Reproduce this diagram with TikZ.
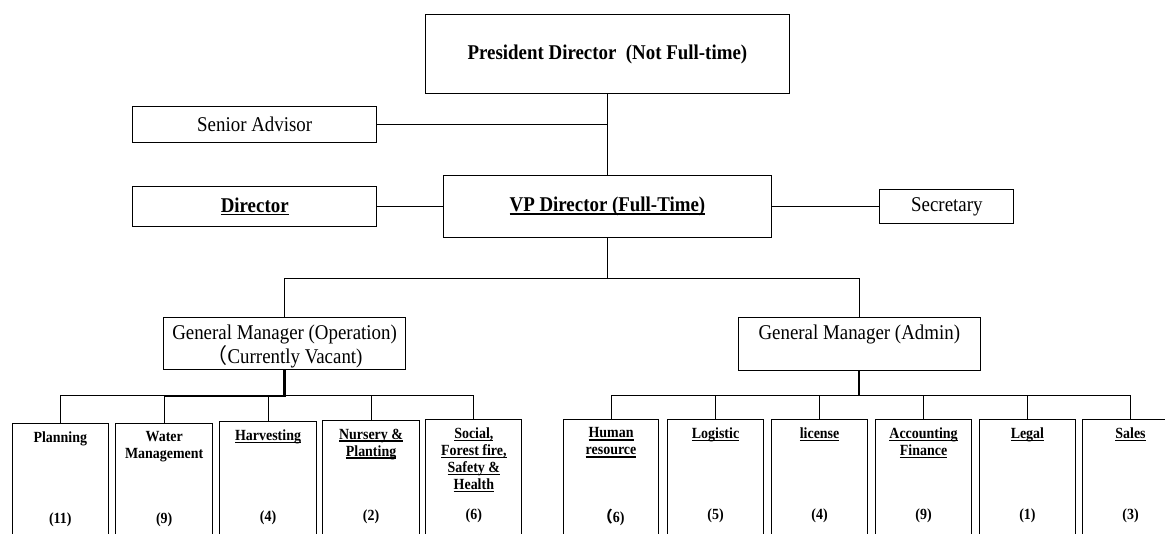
\documentclass[tikz,border=0pt]{standalone}
\usepackage{fontspec}
\setmainfont{Liberation Serif}[FakeStretch=0.9]
\newfontfamily\cjk{Noto Sans CJK SC}
\usetikzlibrary{calc}

% underline drawn as a rule of fixed thickness
\newsavebox\ulsave
\newcommand\uln[1]{\sbox\ulsave{#1}\rlap{\rule[-2.8pt]{\wd\ulsave}{1.4pt}}\usebox\ulsave}

\newcommand\topfont{\fontsize{21}{23.7}\selectfont}
\newcommand\deptfont{\fontsize{15.5}{17}\selectfont\bfseries}
% invisible strut that lowers a centred block of text slightly
\newcommand\lowerstrut{\rule{0pt}{21pt}}

\tikzset{
  box/.style={draw, line width=1.1pt, inner sep=0pt, anchor=north west,
              align=center, font=\topfont},
  dbox/.style={draw, line width=1.1pt, inner sep=0pt, anchor=north west,
               minimum height=130pt},
  dtitle/.style={inner sep=0pt, anchor=north, align=center, font=\deptfont},
  dnum/.style={inner sep=0pt, anchor=north, font=\deptfont},
  conn/.style={line width=1.1pt},
  trunk/.style={line width=2.2pt},
}

% department box with its title and head count
\newcommand\dept[6]{%
  \node[dbox, minimum width=#4pt] (#1) at (#2,#3) {};
  \node[dtitle] (#1-t) at ($(#1.north)+(0,8.5)$) {#5};
  \node[dnum] (#1-n) at ($(#1.north)+(0,89.5)$) {#6};
}

\begin{document}
\begin{tikzpicture}[x=1pt,y=-1pt]
\clip (0,0) rectangle (1165,533);

% upper management
\node[box, minimum width=363.7pt, minimum height=79pt, font=\topfont\bfseries]
  (pres) at (425,14) {President Director\ \ (Not Full-time)};
\node[box, minimum width=243.7pt, minimum height=36pt]
  (sa) at (132.3,106) {Senior Advisor};
\node[box, minimum width=243.7pt, minimum height=40pt, font=\topfont\bfseries]
  (dir) at (132.3,186) {\uln{Director}};
\node[box, minimum width=328.3pt, minimum height=62.3pt, font=\topfont\bfseries]
  (vp) at (442.7,175) {\uln{VP Director (Full-Time)}};
\node[box, minimum width=134pt, minimum height=34pt]
  (sec) at (879.3,189.3) {Secretary};
\node[box, minimum width=242.6pt, minimum height=52.6pt]
  (gmo) at (162.7,316.7) {\lowerstrut General Manager (Operation)\\{\cjk （}Currently Vacant)};
\node[box, minimum width=242.5pt, minimum height=53.3pt]
  (gma) at (737.5,316.7) {\lowerstrut General Manager (Admin)\\\strut};

\draw[conn] (pres.south) -- (vp.north);
\draw[conn] (sa.east) -- (sa.east -| pres.south);
\draw[conn] (dir.east) -- (dir.east -| vp.west);
\draw[conn] (vp.east) -- (vp.east -| sec.west);
\coordinate (gbus) at ($(vp.south)+(0,39.7)$);
\draw[conn] (vp.south) -- (gbus);
\draw[conn] (gmo.north) |- (gbus) -| (gma.north);

% operation departments
\dept{plan}{11.7}{422.7}{96}{Planning}{(11)}
\dept{water}{115}{422.7}{97.3}{Water\\Management}{(9)}
\dept{harv}{219.3}{421}{96.4}{\uln{Harvesting}}{(4)}
\dept{nurs}{321.7}{420}{97.6}{\uln{Nursery \&}\\\uln{Planting}}{(2)}
\dept{soc}{425.3}{418.7}{96}{\uln{Social,}\\\uln{Forest fire,}\\\uln{Safety \&}\\\uln{Health}}{(6)}

\coordinate (obus) at ($(gmo.south)+(0,25.2)$);
\draw[conn] (plan.north) |- (obus) -| (soc.north);
\foreach \d in {water,harv,nurs}
  \draw[conn] (\d.north) -- (\d.north |- obus);
\draw[trunk] (gmo.south) -- (obus) -- (obus -| water.north);

% administration departments
\dept{hr}{562.7}{419}{95.6}{\uln{Human}\\\uln{resource}}{{\cjk （}6)}
\dept{log}{666.7}{419}{96.6}{\uln{Logistic}}{(5)}
\dept{lic}{770.7}{419}{96.6}{\uln{license}}{(4)}
\dept{acc}{875}{419}{96}{\uln{Accounting}\\\uln{Finance}}{(9)}
\dept{leg}{978.7}{419}{96.3}{\uln{Legal}}{(1)}
\dept{sal}{1082}{419}{96}{\uln{Sales}}{(3)}

\coordinate (abus) at ($(gma.south)+(0,24.3)$);
\draw[conn] (hr.north) |- (abus) -| (sal.north);
\foreach \d in {log,lic,acc,leg}
  \draw[conn] (\d.north) -- (\d.north |- abus);
\draw[trunk] (gma.south) -- (abus);
\end{tikzpicture}
\end{document}
